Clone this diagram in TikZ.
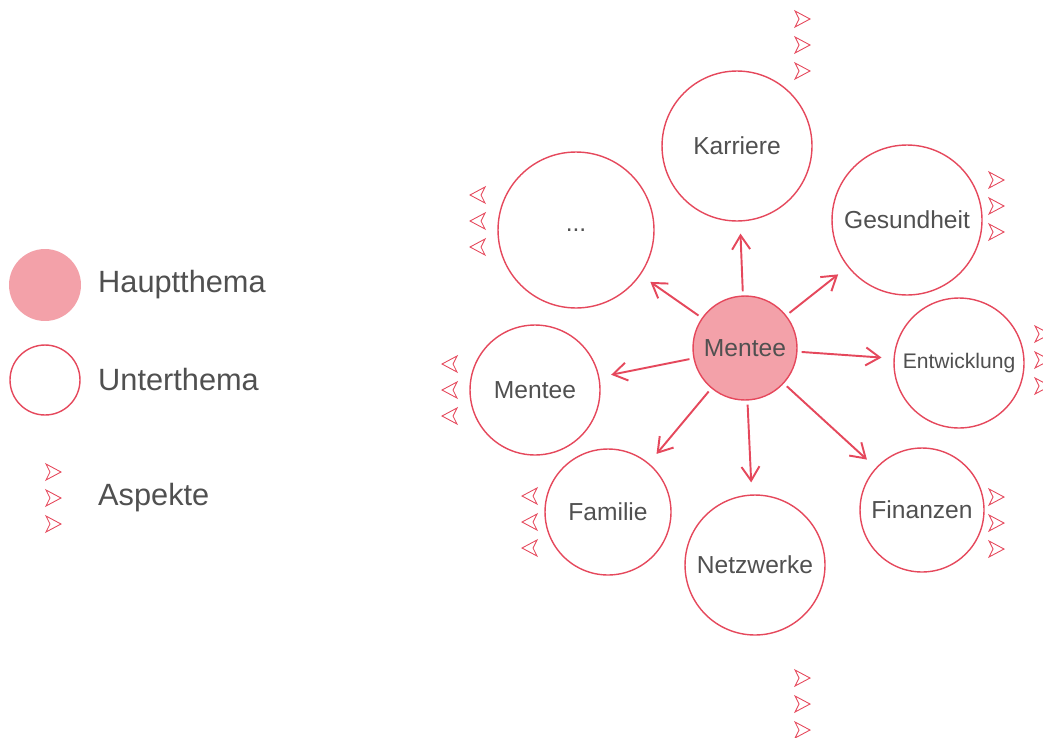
\documentclass[tikz,border=0pt]{standalone}
\usepackage{fontspec}
\setmainfont{Liberation Sans}
\usetikzlibrary{arrows.meta}
\definecolor{themared}{RGB}{229,72,92}
\definecolor{themafill}{RGB}{243,161,169}
\definecolor{textgrey}{RGB}{80,80,80}

\begin{document}
\begin{tikzpicture}[x=0.02cm,y=-0.02cm,
  thema/.style={circle,draw=themared,line width=0.8pt,inner sep=0pt,text=textgrey,font=\fontsize{14}{16}\selectfont},
  haupt/.style={thema,fill=themafill},
  legtext/.style={anchor=west,text=textgrey,font=\fontsize{17.5}{20}\selectfont},
  pfeil/.style={-{Straight Barb[length=2.8mm,width=3.6mm]},themared,line width=1.1pt,shorten >=0.24cm,shorten <=0.08cm},
  aspekt/.pic={\draw[themared,line width=0.5pt,line join=miter] (-7,-8)--(8,0)--(-7,8)--(-3,0)--cycle;}]
\useasboundingbox (0,0) rectangle (1043,737);
% Legende
\node[haupt,draw=none,minimum size=1.44cm](lhaupt) at (45,285){};
\node[thema,minimum size=1.4cm](lunter) at (45,380){};
\node[legtext](thaupt) at (92,285){Hauptthema};
\node[legtext](tunter) at (92,380){Unterthema};
\node[legtext](taspekt) at (92,498){Aspekte};
% Themen
\node[haupt,minimum size=2.08cm](mentee) at (745,348){Mentee};
\node[thema,minimum size=3.0cm](karriere) at (737,146){Karriere};
\node[thema,minimum size=3.0cm](gesund) at (907,220){Gesundheit};
\node[thema,minimum size=2.6cm,font=\fontsize{12}{14}\selectfont](entw) at (959,363){Entwicklung};
\node[thema,minimum size=2.48cm](finanz) at (922,510){Finanzen};
\node[thema,minimum size=2.8cm](netz) at (755,565){Netzwerke};
\node[thema,minimum size=2.52cm](familie) at (608,512){Familie};
\node[thema,minimum size=2.6cm](menteeb) at (535,390){Mentee};
\node[thema,minimum size=3.12cm](weitere) at (576,230){...};
% Pfeile
\foreach \ziel in {karriere,gesund,entw,finanz,netz,familie,menteeb,weitere}
  \draw[pfeil](mentee)--(\ziel);
% Aspekte
\foreach \gx/\gy/\dir in {802/45/0,996/206/0,1042/360/0,996/523/0,802/704/0,478/221/180,450/390/180,530/522/180,53/498/0}
  \foreach \d in {-26,0,26}
    \pic[rotate=\dir] at (\gx,\gy+\d) {aspekt};
\end{tikzpicture}
\end{document}
